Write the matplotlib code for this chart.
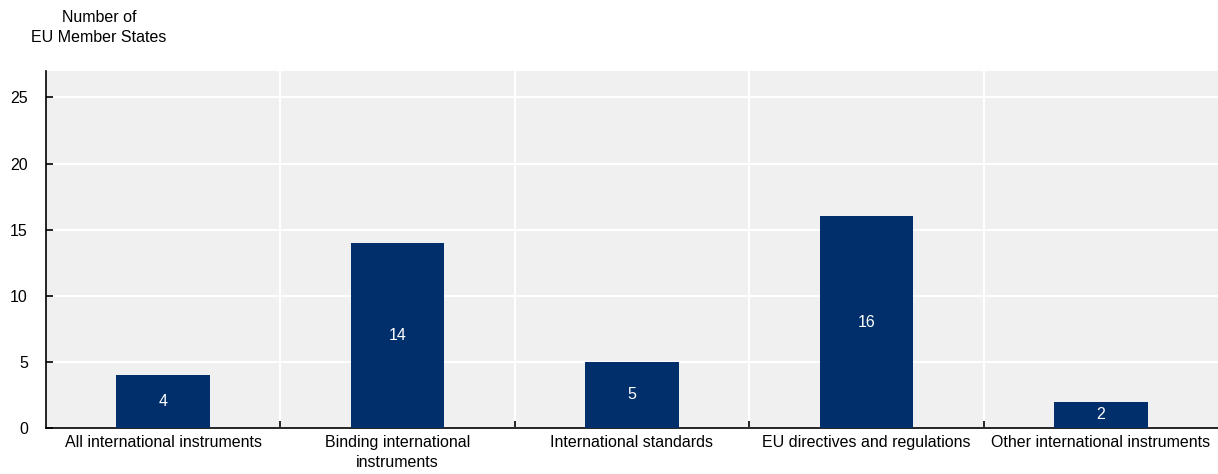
import matplotlib.pyplot as plt
import numpy as np

plt.rcParams['font.family'] = ['Liberation Sans', 'DejaVu Sans']

categories = ['All international instruments', 'Binding international\ninstruments',
              'International standards', 'EU directives and regulations',
              'Other international instruments']
values = [4, 14, 5, 16, 2]

fig = plt.figure(figsize=(12.18, 4.74), dpi=100)
ax = fig.add_axes([46 / 1218, 1 - 428 / 474, 1172 / 1218, 357 / 474])
ax.set_facecolor('#f0f0f0')

fs = 11.5
x = np.arange(len(categories))
bars = ax.bar(x, values, width=0.4, color='#002f6c', zorder=3)
for b, v in zip(bars, values):
    ax.text(b.get_x() + b.get_width() / 2, v / 2, str(v), ha='center', va='center',
            color='white', fontsize=fs, zorder=4)

ax.set_xlim(-0.5, len(categories) - 0.5)
ax.set_ylim(0, 27)
ax.set_yticks([0, 5, 10, 15, 20, 25])
ax.set_xticks(x)
ax.set_xticklabels(categories, fontsize=fs, linespacing=1.45)
ax.tick_params(axis='x', length=0, pad=5)
ax.set_xticks(np.arange(0.5, len(categories) - 1, 1), minor=True)
ax.tick_params(axis='x', which='minor', direction='in', length=5, width=1.2, color='black')
ax.tick_params(axis='y', direction='in', length=5, width=1.2, labelsize=fs, pad=13)

ax.grid(axis='y', color='white', linewidth=1.5, zorder=0)
for b in np.arange(0.5, len(categories) - 1, 1):
    ax.axvline(b, color='white', linewidth=1.5, zorder=1)

for s in ['top', 'right']:
    ax.spines[s].set_visible(False)
ax.spines['left'].set_linewidth(1.2)
ax.spines['bottom'].set_linewidth(1.2)

fig.text(99 / 1218, 1 - 27.5 / 474, 'Number of\nEU Member States', ha='center', va='center',
         fontsize=fs, linespacing=1.4)

fig.savefig('out.png', dpi=100)
